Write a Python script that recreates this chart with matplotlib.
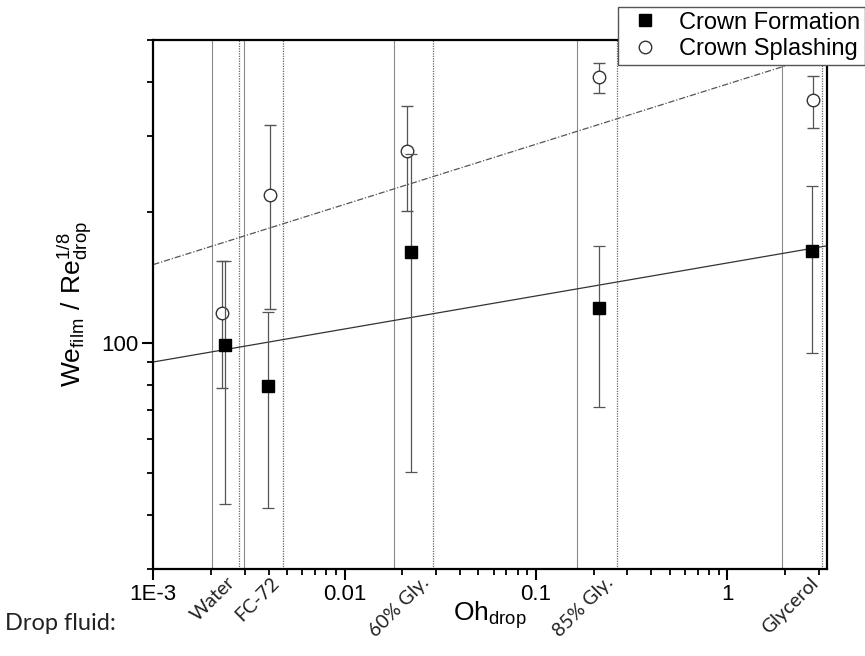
"""Crown formation / splashing threshold vs drop Ohnesorge number."""
from __future__ import annotations

import matplotlib

matplotlib.use("Agg")
import matplotlib.pyplot as plt
import matplotlib.transforms as mtransforms
import numpy as np
from matplotlib.lines import Line2D
from matplotlib.ticker import FixedLocator, FuncFormatter, LogLocator, NullFormatter

plt.rcParams["font.family"] = ["Liberation Sans", "DejaVu Sans"]

fluids = ["Water", "FC-72", "60% Gly.", "85% Gly.", "Glycerol"]

# Oh range of each drop fluid (left / right boundary lines)
range_lo = [2.03e-3, 2.98e-3, 0.0181, 0.164, 1.93]
range_hi = [2.81e-3, 4.76e-3, 0.029, 0.265, 3.13]

oh_formation = [2.37e-3, 3.98e-3, 0.0222, 0.214, 2.78]
we_formation = [98.7, 79.3, 161.8, 120.2, 162.7]
formation_hi = [154, 117.6, 272, 167, 229.8]
formation_lo = [42.5, 41.5, 50.2, 71, 94.6]

oh_splash = [2.29e-3, 4.07e-3, 0.0212, 0.214, 2.81]
we_splash = [117, 219, 277, 410, 363]
splash_hi = [154, 318, 351.6, 442, 413]
splash_lo = [78.5, 119.5, 201, 377, 313]

x_ticks = [1e-3, 1e-2, 1e-1, 1]
x_tick_labels = ["1E-3", "0.01", "0.1", "1"]

XLIM = (1e-3, 3.3)
YLIM = (30, 500)


def _power_fit(x, y, xs):
    slope, icpt = np.polyfit(np.log10(x), np.log10(y), 1)
    return 10 ** (icpt + slope * np.log10(xs))


def _errbar(ax, x, y, lo, hi, **kw):
    y = np.asarray(y, float)
    yerr = [y - np.asarray(lo), np.asarray(hi) - y]
    ax.errorbar(x, y, yerr=yerr, ls="none", ecolor="#555555", elinewidth=0.9,
                capsize=4, capthick=0.9, **kw)


def main() -> int:
    fig = plt.figure(figsize=(8.65, 6.56), dpi=100)
    ax = fig.add_axes([0.1772, 0.1326, 0.7785, 0.8064])
    ax.set_xscale("log")
    ax.set_yscale("log")
    ax.set_xlim(*XLIM)
    ax.set_ylim(*YLIM)

    for lo, hi in zip(range_lo, range_hi):
        ax.axvline(lo, color="#8a8a8a", lw=0.8, zorder=1)
        ax.axvline(hi, color="#666666", lw=0.9, ls=(0, (1, 1)), zorder=1)

    xs = np.logspace(np.log10(XLIM[0]), np.log10(XLIM[1]), 50)
    ax.plot(xs, _power_fit(oh_formation, we_formation, xs), color="#333333", lw=0.9, zorder=2)
    ax.plot(xs, _power_fit(oh_splash, we_splash, xs), color="#555555", lw=0.9,
            ls=(0, (5, 1.5, 1, 1.5)), zorder=2)

    _errbar(ax, oh_splash, we_splash, splash_lo, splash_hi, marker="o", ms=9,
            mfc="white", mec="#333333", mew=1.0, zorder=3)
    _errbar(ax, oh_formation, we_formation, formation_lo, formation_hi, marker="s", ms=8,
            mfc="black", mec="black", zorder=4)

    ax.xaxis.set_major_locator(FixedLocator(x_ticks))
    ax.xaxis.set_major_formatter(FuncFormatter(lambda v, p: x_tick_labels[x_ticks.index(v)] if v in x_ticks else ""))
    ax.xaxis.set_minor_locator(LogLocator(base=10, subs=np.arange(2, 10), numticks=20))
    ax.xaxis.set_minor_formatter(NullFormatter())
    ax.yaxis.set_major_locator(FixedLocator([100]))
    ax.yaxis.set_major_formatter(FuncFormatter(lambda v, p: f"{v:.0f}"))
    ax.yaxis.set_minor_locator(LogLocator(base=10, subs=np.arange(2, 10), numticks=20))
    ax.yaxis.set_minor_formatter(NullFormatter())
    ax.tick_params(which="major", direction="out", length=8, width=1.5, labelsize=16, pad=3)
    ax.tick_params(which="minor", direction="out", length=4.5, width=1.3)
    for sp in ax.spines.values():
        sp.set_linewidth(1.6)

    ax.set_ylabel(r"$\mathregular{We_{film}\ /\ Re_{drop}^{1/8}}$", fontsize=19, labelpad=5)
    ax.set_xlabel(r"$\mathregular{Oh_{drop}}$", fontsize=19, labelpad=-4)

    # fluid names sit just left of the right boundary of each Oh range
    base = mtransforms.blended_transform_factory(ax.transData, ax.transAxes)
    trans = mtransforms.offset_copy(base, fig=fig, x=-1, y=-5, units="dots")
    for name, xr in zip(fluids, range_hi):
        ax.text(xr, 0, name, transform=trans, rotation=45, ha="right", va="top",
                fontsize=14, family=["Lato", "DejaVu Sans"], color="#222222")
    fig.text(0.006, 0.050, "Drop fluid:", fontsize=17, family=["Lato", "DejaVu Sans"],
             va="center", ha="left", color="#222222")

    handles = [
        Line2D([], [], ls="none", marker="s", ms=8, mfc="black", mec="black"),
        Line2D([], [], ls="none", marker="o", ms=9, mfc="white", mec="#333333"),
    ]
    leg = fig.legend(handles, ["Crown Formation", "Crown Splashing"], loc="upper left",
                     bbox_to_anchor=(618 / 865, 1 - 7 / 656), fontsize=17, frameon=True,
                     fancybox=False, handlelength=1.9, handletextpad=0.5, labelspacing=0.2,
                     borderpad=0.2, borderaxespad=0)
    leg.get_frame().set_edgecolor("#555555")
    leg.get_frame().set_linewidth(1.0)
    leg.get_frame().set_alpha(1)

    fig.savefig("out.png", dpi=100)
    plt.close(fig)
    return 0


if __name__ == "__main__":
    raise SystemExit(main())
